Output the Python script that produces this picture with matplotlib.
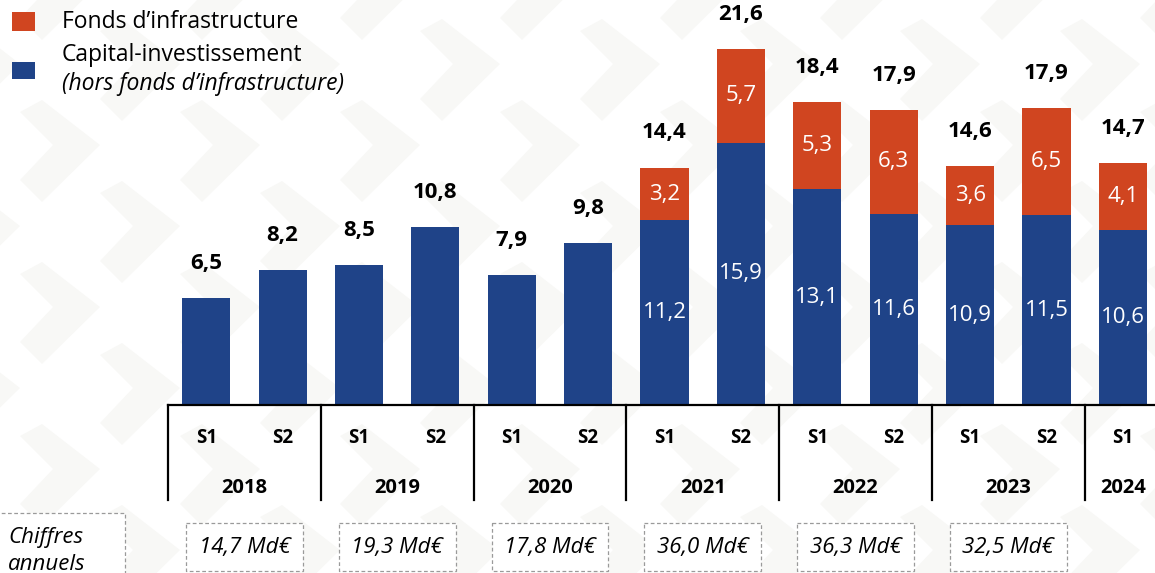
import matplotlib
matplotlib.use("Agg")
import matplotlib.pyplot as plt
from matplotlib.patches import Rectangle, Polygon

plt.rcParams['font.family'] = ['Open Sans', 'DejaVu Sans']

# data
years = ['2018', '2019', '2020', '2021', '2022', '2023', '2024']
semesters = ['S1', 'S2'] * 6 + ['S1']
capital = [6.5, 8.2, 8.5, 10.8, 7.9, 9.8, 11.2, 15.9, 13.1, 11.6, 10.9, 11.5, 10.6]
infra = [0, 0, 0, 0, 0, 0, 3.2, 5.7, 5.3, 6.3, 3.6, 6.5, 4.1]
totals = [6.5, 8.2, 8.5, 10.8, 7.9, 9.8, 14.4, 21.6, 18.4, 17.9, 14.6, 17.9, 14.7]
annual = ['14,7 Md€', '19,3 Md€', '17,8 Md€', '36,0 Md€', '36,3 Md€', '32,5 Md€']

BLUE = '#1f4388'
ORANGE = '#d04520'
W, H = 1155, 573


def fx(x):
    return x / W


def fy(y):
    return 1 - y / H


def fr(v):
    return f'{v:.1f}'.replace('.', ',')


fig = plt.figure(figsize=(W / 100, H / 100), dpi=100)

# faint chevron background, in pixel coordinates
bgax = fig.add_axes([0, 0, 1, 1], zorder=-10)
bgax.set_xlim(0, W)
bgax.set_ylim(H, 0)
bgax.axis('off')
for row in range(-1, 5):
    for col in range(-1, 9):
        for dx, dy in ((0, 0), (80, 81)):
            tx = 100 + col * 160 + dx
            ty = 145 + row * 162 + dy
            pts = [(tx - 58, ty - 45), (tx, ty), (tx - 58, ty + 57),
                   (tx - 80, ty + 35), (tx - 47, ty), (tx - 80, ty - 33)]
            bgax.add_patch(Polygon(pts, closed=True, facecolor='#f8f8f6',
                                   edgecolor='none'))

# main bar axes: baseline at y=405 px, left edge at x=168 px
ax = fig.add_axes([fx(168), fy(405), 1 - fx(168), 405 / H])
ax.set_facecolor('none')
x = list(range(len(capital)))
ax.bar(x, capital, width=0.63, color=BLUE, zorder=2)
ax.bar(x, infra, width=0.63, bottom=capital, color=ORANGE, zorder=2)
ax.set_xlim(-0.5, 12.42)
ax.set_ylim(0, 405 / 16.48)
ax.axis('off')

for i in x:
    ax.annotate(fr(totals[i]), (i, capital[i] + infra[i]),
                xytext=(0, 25), textcoords='offset points', ha='center',
                va='center', fontsize=16, fontweight='bold', color='black')
    if infra[i] > 0:
        ax.text(i, capital[i] / 2, fr(capital[i]), ha='center', va='center',
                fontsize=16, color='white')
        ax.text(i, capital[i] + infra[i] / 2, fr(infra[i]), ha='center',
                va='center', fontsize=16, color='white')

# category table below the bars, y in pixel units
tb = fig.add_axes([fx(168), 0, 1 - fx(168), fy(405)], sharex=ax)
tb.set_facecolor('none')
tb.set_ylim(H, 405)
tb.axis('off')
tb.plot([-0.5, 12.42], [405, 405], color='black', lw=1.6, clip_on=False)
for k in range(len(years)):
    sep = -0.5 + 2 * k
    tb.plot([sep, sep], [405, 500], color='black', lw=1.6, clip_on=False)
for i in x:
    tb.text(i, 438, semesters[i], ha='center', va='center', fontsize=13.5,
            fontweight='bold')
for k, yr in enumerate(years):
    cx = 2 * k + 0.5 if k < 6 else 12
    tb.text(cx, 488, yr, ha='center', va='center', fontsize=14.5,
            fontweight='bold')
for k, lab in enumerate(annual):
    cx = 2 * k + 0.5
    tb.add_patch(Rectangle((cx - 0.765, 523), 1.53, 48, facecolor='white',
                           edgecolor='#9a9a9a', lw=0.9, ls=(0, (3, 2)),
                           clip_on=False))
    tb.text(cx, 548, lab, ha='center', va='center', fontsize=16,
            style='italic')

# "Chiffres annuels" box
bgax.add_patch(Rectangle((-5, 513), 130, 90, facecolor='white',
                         edgecolor='#9a9a9a', lw=0.9, ls=(0, (3, 2))))
bgax.text(8, 538, 'Chiffres', ha='left', va='center', fontsize=16,
          style='italic')
bgax.text(8, 564, 'annuels', ha='left', va='center', fontsize=16,
          style='italic')

# legend
bgax.add_patch(Rectangle((12, 12), 23, 19, facecolor=ORANGE))
bgax.add_patch(Rectangle((12, 62), 23, 17, facecolor=BLUE))
bgax.text(62, 22, 'Fonds d\u2019infrastructure', ha='left', va='center',
          fontsize=16.5)
bgax.text(62, 55, 'Capital-investissement', ha='left', va='center',
          fontsize=16.5)
bgax.text(62, 84, '(hors fonds d\u2019infrastructure)', ha='left',
          va='center', fontsize=16.5, style='italic')

fig.savefig('out.png', dpi=100)
